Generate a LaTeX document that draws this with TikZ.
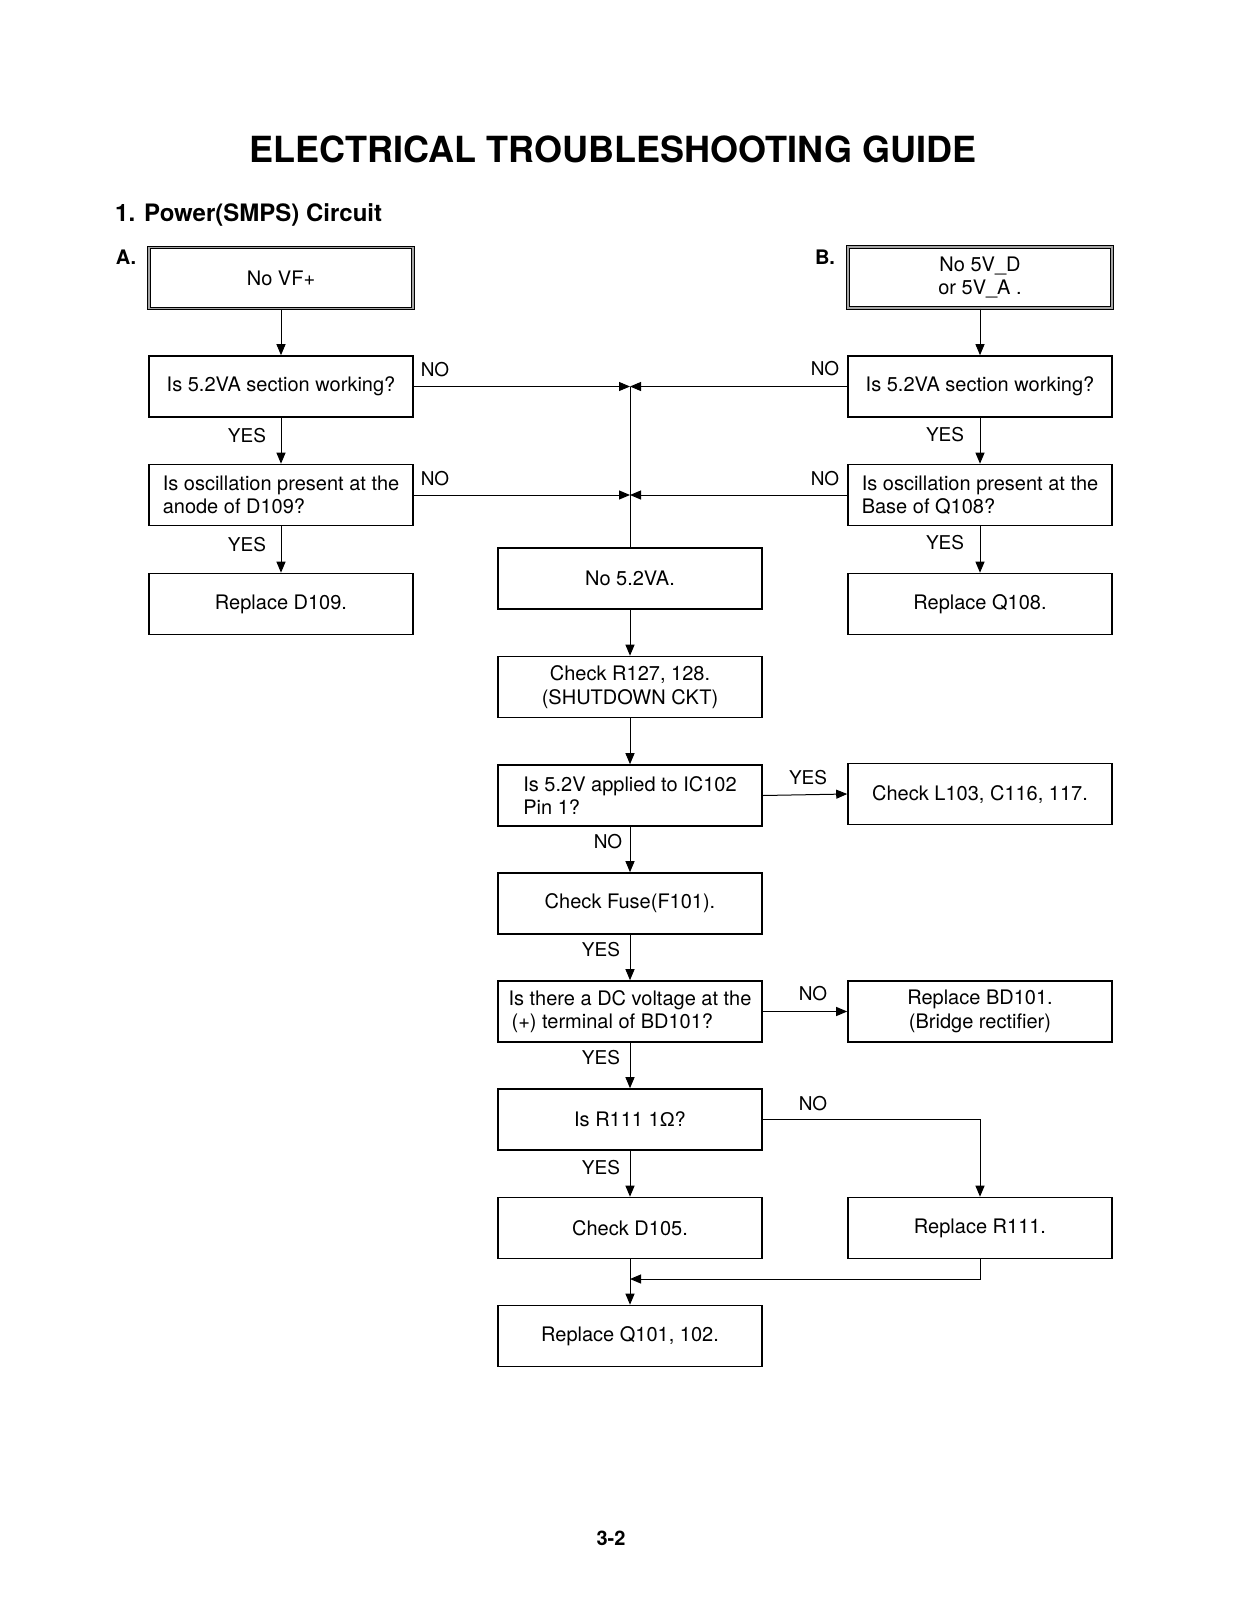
\documentclass[tikz,border=0pt]{standalone}
\usepackage{fontspec}
\setmainfont{TeX Gyre Heros}
\newfontfamily\libsans{Liberation Sans}
\usetikzlibrary{arrows.meta}
\begin{document}
\begin{tikzpicture}[x=1pt,y=-1pt,
  every node/.style={font=\fontsize{20}{23.5}\selectfont},
  box/.style={draw, line width=1.6pt, minimum width=264pt, minimum height=61pt, align=center, inner sep=0pt},
  lbox/.style={box, align=left},
  dbox/.style={box, double=black!35, double distance=1.2pt, line width=1pt},
  arr/.style={line width=1pt, -{Triangle[length=11pt,width=9pt]}},
  ln/.style={line width=1pt},
  lab/.style={font=\fontsize{19}{22}\selectfont, inner sep=0pt}]
\useasboundingbox (0,0) rectangle (1232,1600);

% headings
\node[inner sep=0pt, font=\bfseries\fontsize{36}{40}\selectfont] (title) at (613,149) {ELECTRICAL TROUBLESHOOTING GUIDE};
\node[inner sep=0pt, anchor=west, font=\bfseries\fontsize{24}{28}\selectfont] (sub) at (115,215) {1. Power(SMPS) Circuit};
\node[inner sep=0pt, font=\bfseries\fontsize{20}{24}\selectfont] (la) at (126,257) {A.};
\node[inner sep=0pt, font=\bfseries\fontsize{20}{24}\selectfont] (lb) at (825,257) {B.};
\node[inner sep=0pt, font=\bfseries\fontsize{20}{24}\selectfont] (page) at (611,1538) {3-2};

% left column
\node[dbox] (a1) at (281,278) {No VF+};
\node[box]  (a2) at (281,386.5) {Is 5.2VA section working?};
\node[lbox] (a3) at (281,495) {Is oscillation present at the\\anode of D109?};
\node[box]  (a4) at (281,604) {Replace D109.};

% right column
\node[dbox] (b1) at (980,277.5) {No 5V\_D\\or 5V\_A .};
\node[box]  (b2) at (980,386.5) {Is 5.2VA section working?};
\node[lbox] (b3) at (980,495) {Is oscillation present at the\\Base of Q108?};
\node[box]  (b4) at (980,604) {Replace Q108.};
\node[box]  (r5) at (980,794) {Check L103, C116, 117.};
\node[box]  (r6) at (980,1011.5) {Replace BD101.\\(Bridge rectifier)};
\node[box]  (r7) at (980,1228) {Replace R111.};

% center column
\node[box]  (c1) at (630,578.5) {No 5.2VA.};
\node[box]  (c2) at (630,687) {Check R127, 128.\\(SHUTDOWN CKT)};
\node[lbox] (c3) at (630,795.5) {Is 5.2V applied to IC102\\Pin 1?};
\node[box]  (c4) at (630,903.5) {Check Fuse(F101).};
\node[lbox] (c5) at (630,1011.5) {Is there a DC voltage at the\\\hspace*{3pt}(+) terminal of BD101?};
\node[box]  (c6) at (630,1119.5) {Is R111 1{\libsans Ω}?};
\node[box]  (c7) at (630,1228) {Check D105.};
\node[box]  (c8) at (630,1336) {Replace Q101, 102.};

\coordinate (j1) at (630,386.5);
\coordinate (j2) at (630,495);
\coordinate (j3) at (630,1279);

% connectors
\draw[arr] (a1) -- (a2);
\draw[arr] (a2) -- (a3);
\draw[arr] (a3) -- (a4);
\draw[arr] (b1) -- (b2);
\draw[arr] (b2) -- (b3);
\draw[arr] (b3) -- (b4);
\draw[arr] (a2.east) -- (j1);
\draw[arr] (b2.west) -- (j1);
\draw[arr] (a3.east) -- (j2);
\draw[arr] (b3.west) -- (j2);
\draw[ln] (j1) -- (c1.north);
\draw[arr] (c1) -- (c2);
\draw[arr] (c2) -- (c3);
\draw[arr] (c3.east) -- (r5.west);
\draw[arr] (c3) -- (c4);
\draw[arr] (c4) -- (c5);
\draw[arr] (c5.east) -- (r6.west);
\draw[arr] (c5) -- (c6);
\draw[arr] (c6.east) -| (r7.north);
\draw[arr] (c6) -- (c7);
\draw[arr] (c7) -- (c8);
\draw[arr] (r7.south) |- (j3);

% labels
\node[lab] (n1) at (435,370) {NO};
\node[lab] (n2) at (825,369) {NO};
\node[lab] (n3) at (435,479) {NO};
\node[lab] (n4) at (825,479) {NO};
\node[lab] (y1) at (247,436) {YES};
\node[lab] (y2) at (247,545) {YES};
\node[lab] (y3) at (945,435) {YES};
\node[lab] (y4) at (945,543) {YES};
\node[lab] (y5) at (808,778) {YES};
\node[lab] (n5) at (608,842) {NO};
\node[lab] (y6) at (601,950) {YES};
\node[lab] (n6) at (813,994) {NO};
\node[lab] (y7) at (601,1058) {YES};
\node[lab] (n7) at (813,1104) {NO};
\node[lab] (y8) at (601,1168) {YES};
\end{tikzpicture}
\end{document}
